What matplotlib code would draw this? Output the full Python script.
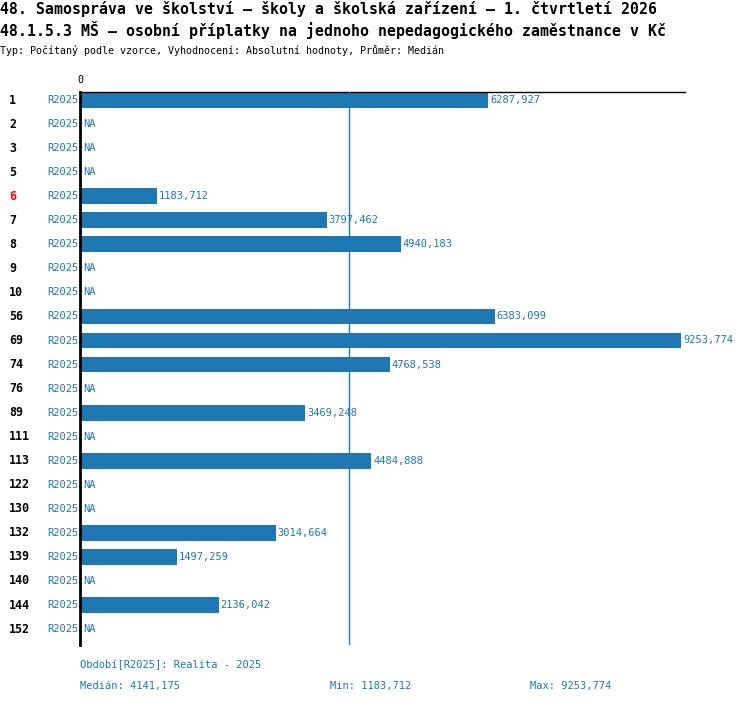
import numpy as np
import matplotlib.pyplot as plt

# Data
labels = ["1", "2", "3", "5", "6", "7", "8", "9", "10", "56", "69", "74", "76",
          "89", "111", "113", "122", "130", "132", "139", "140", "144", "152"]
values = [6287.927, None, None, None, 1183.712, 3797.462, 4940.183, None, None,
          6383.099, 9253.774, 4768.538, None, 3469.248, None, 4484.888, None,
          None, 3014.664, 1497.259, None, 2136.042, None]
highlight = "6"
period = "R2025"
median = 4141.175
vmin = 1183.712
vmax = 9253.774

blue = "#1f77b4"
mono = "DejaVu Sans Mono"
small = 7.5

W, H = 750, 704
fig = plt.figure(figsize=(W / 100, H / 100), dpi=100)

left, right, top, bottom = 80, 685, 92, 645
ax = fig.add_axes([left / W, 1 - bottom / H, (right - left) / W, (bottom - top) / H])

step = 24.05
y0 = 100
n = len(labels)
xscale = (681 - 80) / vmax
ax.set_xlim(0, (right - left) / xscale)
ax.set_ylim((bottom - y0) / step, -(y0 - top) / step)

for i, (lab, v) in enumerate(zip(labels, values)):
    if v is not None:
        ax.barh(i, v, height=0.66, color=blue, zorder=2)
        ax.text(v + 30, i, f"{v:.3f}".replace(".", ","), color=blue,
                fontsize=small, family=mono, va="center", ha="left")
    else:
        ax.text(45, i, "NA", color=blue, fontsize=small, family=mono,
                va="center", ha="left")
    # row label
    fig.text(9 / W, 1 - (y0 + i * step) / H, lab, fontsize=8.4,
             family=mono, weight="bold",
             color="red" if lab == highlight else "black",
             va="center", ha="left")
    fig.text(78 / W, 1 - (y0 + i * step) / H, period, fontsize=small,
             family=mono, color=blue, va="center", ha="right")

ax.axvline(median, color=blue, lw=1, zorder=3)

for s in ["right", "bottom"]:
    ax.spines[s].set_visible(False)
ax.spines["left"].set_linewidth(2)
ax.spines["top"].set_linewidth(1)
ax.set_xticks([])
ax.set_yticks([])
fig.text(80 / W, 1 - 80 / H, "0", fontsize=7.2, family=mono, ha="center", va="center")

# Titles
fig.text(0, 1 - 9 / H,
         "48. Samospráva ve školství – školy a školská zařízení – 1. čtvrtletí 2026",
         fontsize=10.7, family=mono, weight="bold", va="center", ha="left")
fig.text(0, 1 - 30 / H,
         "48.1.5.3 MŠ – osobní příplatky na jednoho nepedagogického zaměstnance v Kč",
         fontsize=10.7, family=mono, weight="bold", va="center", ha="left")
fig.text(0, 1 - 50 / H,
         "Typ: Počítaný podle vzorce, Vyhodnocení: Absolutní hodnoty, Průměr: Medián",
         fontsize=7.2, family=mono, va="center", ha="left")

# Footer
fig.text(80 / W, 1 - 665 / H, "Období[R2025]: Realita - 2025", fontsize=small,
         family=mono, color=blue, va="center", ha="left")
fig.text(80 / W, 1 - 686 / H, "Medián: " + f"{median:.3f}".replace(".", ","),
         fontsize=small, family=mono, color=blue, va="center", ha="left")
fig.text(330 / W, 1 - 686 / H, "Min: " + f"{vmin:.3f}".replace(".", ","),
         fontsize=small, family=mono, color=blue, va="center", ha="left")
fig.text(530 / W, 1 - 686 / H, "Max: " + f"{vmax:.3f}".replace(".", ","),
         fontsize=small, family=mono, color=blue, va="center", ha="left")

fig.savefig("out.png", dpi=100)
